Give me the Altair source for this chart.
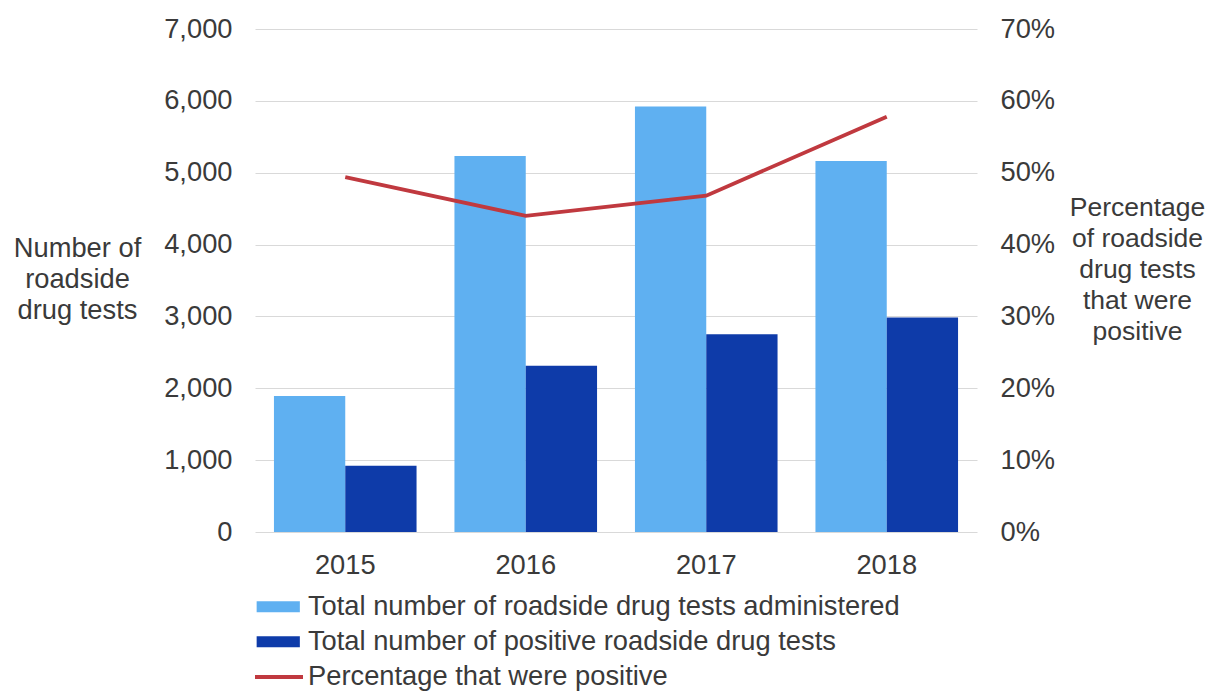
import altair as alt
import pandas as pd

# ---- data ----
years = ["2015", "2016", "2017", "2018"]
administered = [1893, 5233, 5921, 5163]
positive = [921, 2312, 2753, 2986]
pct_positive = [0.494, 0.440, 0.468, 0.578]

series_names = [
    "Total number of roadside drug tests administered",
    "Total number of positive roadside drug tests",
    "Percentage that were positive",
]
left_ticks = [0, 1000, 2000, 3000, 4000, 5000, 6000, 7000]
right_ticks = [0.0, 0.1, 0.2, 0.3, 0.4, 0.5, 0.6, 0.7]
left_title = ["Number of", "roadside", "drug tests"]
right_title = ["Percentage", "of roadside", "drug tests", "that were", "positive"]

# ---- styling ----
FONT = "Liberation Sans"
TXT = "#3a3a3a"
LIGHT = "#5fb0f1"
DARK = "#0e3ba9"
RED = "#c0393f"
GRID = "#d9d9d9"
FS = 27.3
RECT_PATH = "M-3.6,-0.92H3.6V0.92H-3.6Z"

bars_df = pd.DataFrame({
    "year": years * 2,
    "series": [series_names[0]] * len(years) + [series_names[1]] * len(years),
    "value": administered + positive,
})
line_df = pd.DataFrame({"year": years, "pct": pct_positive,
                        "series": [series_names[2]] * len(years)})

x_enc = alt.X(
    "year:N", sort=years,
    scale=alt.Scale(paddingInner=0.21, paddingOuter=0.105),
    axis=alt.Axis(title=None, labelAngle=0, labelFontSize=FS, labelPadding=19,
                  domain=False, ticks=False, labelColor=TXT, labelFont=FONT),
)

bar = alt.Chart(bars_df).mark_bar().encode(
    x=x_enc,
    xOffset=alt.XOffset("series:N", sort=series_names[:2],
                        scale=alt.Scale(paddingInner=0, paddingOuter=0)),
    y=alt.Y(
        "value:Q",
        scale=alt.Scale(domain=[0, 7000], nice=False),
        axis=alt.Axis(
            values=left_ticks, format=",.0f", title=left_title, titleAngle=0,
            titleX=-178, titleY=219, titleAlign="center", titleBaseline="middle",
            titleFontSize=FS, titleFontWeight="normal", titleLineHeight=31,
            titleColor=TXT, titleFont=FONT,
            labelFontSize=FS, labelPadding=23, labelColor=TXT, labelFont=FONT,
            domain=False, ticks=False, grid=True, gridColor=GRID, gridWidth=1.2,
        ),
    ),
    color=alt.Color(
        "series:N",
        scale=alt.Scale(domain=series_names[:2], range=[LIGHT, DARK]),
        legend=alt.Legend(
            title=None, orient="none", legendX=-6, legendY=564, direction="vertical",
            symbolType=RECT_PATH, symbolSize=144, symbolOffset=15.6,
            symbolStrokeWidth=0, labelOffset=16, labelFontSize=FS,
            labelColor=TXT, labelFont=FONT, labelLimit=800, rowPadding=7,
        ),
    ),
)

line = alt.Chart(line_df).mark_line(strokeWidth=3.8).encode(
    x=alt.X("year:N", sort=years),
    y=alt.Y(
        "pct:Q",
        scale=alt.Scale(domain=[0, 0.7], nice=False),
        axis=alt.Axis(
            orient="right", values=right_ticks, format=".0%", title=right_title,
            titleAngle=0, titleX=160, titleY=178, titleAlign="center",
            titleBaseline="middle", titleFontSize=26.5, titleFontWeight="normal",
            titleLineHeight=31, titleColor=TXT, titleFont=FONT,
            labelFontSize=FS, labelPadding=23, labelColor=TXT, labelFont=FONT,
            domain=False, ticks=False, grid=False,
        ),
    ),
    color=alt.Color(
        "series:N",
        scale=alt.Scale(domain=series_names[2:], range=[RED]),
        legend=alt.Legend(
            title=None, orient="none", legendX=-2, legendY=622,
            symbolType="stroke", symbolSize=2304, symbolStrokeWidth=4,
            labelOffset=3, labelFontSize=FS, labelColor=TXT, labelFont=FONT,
            labelLimit=800,
        ),
    ),
)

chart = (
    alt.layer(bar, line)
    .resolve_scale(y="independent", color="independent")
    .properties(
        width=722, height=503,
        autosize=alt.AutoSizeParams(type="none"),
        padding={"left": 247, "top": 21, "right": 229, "bottom": 160},
    )
    .configure(font=FONT, view=alt.ViewConfig(strokeWidth=0, stroke="transparent"))
)

chart.save("out.html", embed_options={"renderer": "svg", "actions": False})
